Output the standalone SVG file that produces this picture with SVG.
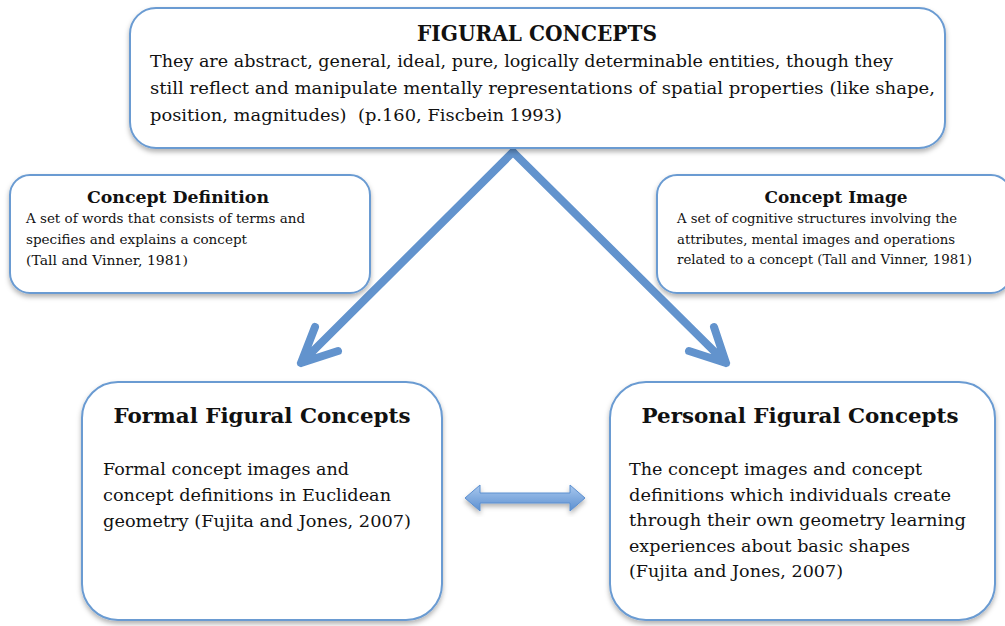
<svg xmlns="http://www.w3.org/2000/svg" width="1005" height="626" viewBox="0 0 1005 626">
<style>
.box{fill:#fff;stroke:#6a9bd2;stroke-width:2;filter:url(#sh)}
text{font-family:"DejaVu Serif","Liberation Serif",serif;fill:#111}
.t{font-weight:bold;text-anchor:middle}
.big{font-size:17.5px}
.sm{font-size:13px}
.conn{stroke:#6293cd;stroke-width:8;fill:none;stroke-linecap:round;stroke-linejoin:round}
</style>
<defs>
<filter id="sh" x="-10%" y="-10%" width="120%" height="130%">
<feDropShadow dx="0" dy="3" stdDeviation="2.5" flood-color="#000" flood-opacity="0.3"/>
</filter>
<linearGradient id="dg" x1="0" y1="0" x2="0" y2="1">
<stop offset="0" stop-color="#a9c8ee"/>
<stop offset="1" stop-color="#5b8fd0"/>
</linearGradient>
</defs>
<g id="connectors">
<path class="conn" d="M513 152 L301 363 M315 327 L301 363 L338 351"/>
<path class="conn" d="M513 152 L726 363 M714 327 L726 363 L689 351"/>
<path d="M465 498 L480 485 L480 493 L570 493 L570 485 L585 498 L570 511 L570 503 L480 503 L480 511 Z" fill="url(#dg)" stroke="#5b8fd0" stroke-width="1" filter="url(#sh)"/>
</g>
<g id="figural">
<rect class="box" x="130" y="8" width="815" height="140" rx="26"/>
<text class="t" x="537" y="41" font-size="22" textLength="240" lengthAdjust="spacingAndGlyphs">FIGURAL CONCEPTS</text>
<text class="big" x="150" y="67" textLength="743" lengthAdjust="spacingAndGlyphs">They are abstract, general, ideal, pure, logically determinable entities, though they</text>
<text class="big" x="150" y="94" textLength="785" lengthAdjust="spacingAndGlyphs">still reflect and manipulate mentally representations of spatial properties (like shape,</text>
<text class="big" x="150" y="121" textLength="412" lengthAdjust="spacingAndGlyphs">position, magnitudes) &#160;(p.160, Fiscbein 1993)</text>
</g>
<g id="definition">
<rect class="box" x="10" y="175" width="360" height="118" rx="20"/>
<text class="t" x="178" y="203" font-size="17" textLength="182" lengthAdjust="spacingAndGlyphs">Concept Definition</text>
<text class="sm" x="26" y="223" textLength="279" lengthAdjust="spacingAndGlyphs">A set of words that consists of terms and</text>
<text class="sm" x="26" y="244" textLength="221" lengthAdjust="spacingAndGlyphs">specifies and explains a concept</text>
<text class="sm" x="26" y="265" textLength="162" lengthAdjust="spacingAndGlyphs">(Tall and Vinner, 1981)</text>
</g>
<g id="image">
<rect class="box" x="657" y="175" width="354" height="118" rx="20"/>
<text class="t" x="836" y="203" font-size="17" textLength="143" lengthAdjust="spacingAndGlyphs">Concept Image</text>
<text class="sm" x="677" y="223" textLength="280" lengthAdjust="spacingAndGlyphs">A set of cognitive structures involving the</text>
<text class="sm" x="677" y="244" textLength="278" lengthAdjust="spacingAndGlyphs">attributes, mental images and operations</text>
<text class="sm" x="677" y="264" textLength="295" lengthAdjust="spacingAndGlyphs">related to a concept (Tall and Vinner, 1981)</text>
</g>
<g id="formal">
<rect class="box" x="82" y="382" width="360" height="238" rx="36"/>
<text class="t" x="262" y="423" font-size="21" textLength="297" lengthAdjust="spacingAndGlyphs">Formal Figural Concepts</text>
<text class="big" x="103" y="475" textLength="246" lengthAdjust="spacingAndGlyphs">Formal concept images and</text>
<text class="big" x="103" y="501" textLength="288" lengthAdjust="spacingAndGlyphs">concept definitions in Euclidean</text>
<text class="big" x="103" y="527" textLength="308" lengthAdjust="spacingAndGlyphs">geometry (Fujita and Jones, 2007)</text>
</g>
<g id="personal">
<rect class="box" x="610" y="382" width="385" height="238" rx="36"/>
<text class="t" x="800" y="423" font-size="21" textLength="317" lengthAdjust="spacingAndGlyphs">Personal Figural Concepts</text>
<text class="big" x="629" y="475" textLength="293" lengthAdjust="spacingAndGlyphs">The concept images and concept</text>
<text class="big" x="629" y="501" textLength="322" lengthAdjust="spacingAndGlyphs">definitions which individuals create</text>
<text class="big" x="629" y="526" textLength="337" lengthAdjust="spacingAndGlyphs">through their own geometry learning</text>
<text class="big" x="629" y="552" textLength="281" lengthAdjust="spacingAndGlyphs">experiences about basic shapes</text>
<text class="big" x="629" y="577" textLength="214" lengthAdjust="spacingAndGlyphs">(Fujita and Jones, 2007)</text>
</g>
</svg>
